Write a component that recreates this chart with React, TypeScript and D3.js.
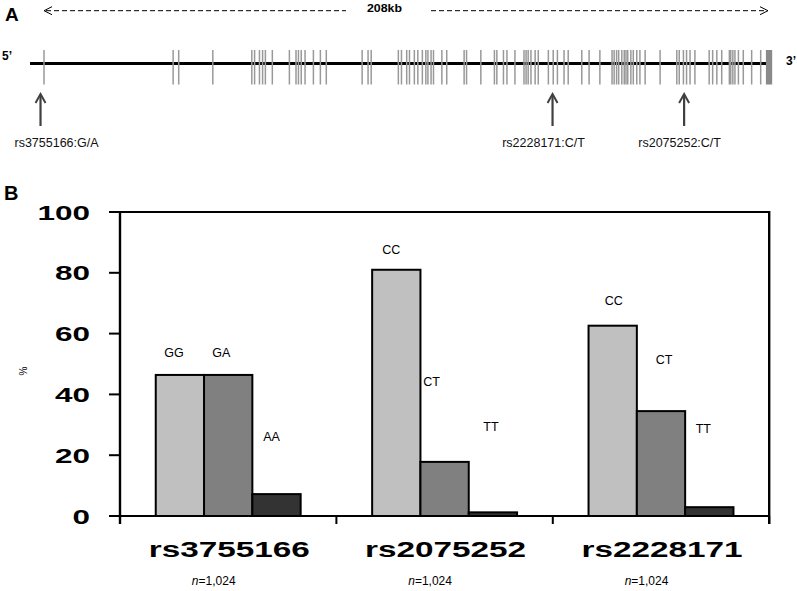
import React from 'react';
import * as d3 from 'd3';

// ---------- Panel A data ----------
const geneLengthKb = 208;
const exonPositionsKb = [
  0, 37.1, 38.7, 48.5, 59.7, 60.5, 61.9, 62.8, 63.6, 65.6, 70.5, 72.4, 73.1, 73.9, 75.0, 77.4, 79.4, 81.1,
  91.4, 93.1, 94.0, 101.8, 102.7, 104.2, 105.0, 106.4, 107.4, 108.7, 109.7, 110.3, 111.2, 111.9, 114.3, 115.7,
  120.7, 121.4, 125.5, 129.4, 130.1, 132.0, 133.0, 135.3, 137.9, 138.5, 139.1, 139.9, 141.1, 142.0, 144.9,
  146.3, 147.5, 149.4, 150.6, 154.5, 156.6, 159.7, 163.2, 163.8, 164.5, 165.1, 166.0, 166.7, 167.2, 167.7,
  168.6, 169.3, 170.3, 171.2, 172.7, 177.0, 181.8, 182.5, 183.7, 184.6, 185.6, 187.0, 191.1, 192.1, 193.3,
  194.7, 196.9, 197.3, 197.9, 198.5, 199.5, 200.9, 203.3, 205.9,
];
const lastExonKb = [207.4, 209.2];
const snpIds = ['rs3755166', 'rs2228171', 'rs2075252'];
const snpAlleles = ['G/A', 'C/T', 'C/T'];
const snpPositionsKb = [-1.0, 146.1, 183.9];

// ---------- Panel B data ----------
const markers = ['rs3755166', 'rs2075252', 'rs2228171'];
const genotypeLabels = [
  ['GG', 'GA', 'AA'],
  ['CC', 'CT', 'TT'],
  ['CC', 'CT', 'TT'],
];
const genotypePercent = [
  [46.4, 46.4, 7.2],
  [81.0, 17.8, 1.2],
  [62.6, 34.5, 2.9],
];
const sampleSizes = ['1,024', '1,024', '1,024'];
const yTicks = [0, 20, 40, 60, 80, 100];

// ---------- layout / style ----------
const W = 797;
const H = 591;
const barFills = ['#c0c0c0', '#808080', '#333333'];
// label offsets (dx from bar centre, dy above bar top) as placed in the original
const labelOffsets = [
  [[-6, 18], [-7, 18], [-5, 53]],
  [[-5, 16], [-13, 76], [-2, 81]],
  [[1, 21], [3, 47], [-6, 74]],
];
const snpLabelDx = [16, -9, -4.5];

export default function App() {
  // Panel A scales
  const gx = d3.scaleLinear().domain([0, geneLengthKb]).range([44, 768]);
  const lineY = 63.5;

  // Panel B scales
  const x0 = d3.scaleBand<string>().domain(markers).range([120, 769.2]).paddingInner(0).paddingOuter(0);
  const x1 = d3.scaleBand<number>().domain([0, 1, 2]).range([0, x0.bandwidth()]).paddingInner(0).paddingOuter(0.74);
  const y = d3.scaleLinear().domain([0, 100]).range([516, 212]);

  const dashed = '5,3';
  const sans = 'Liberation Sans, Arial, sans-serif';

  return (
    <svg width={W} height={H} style={{ position: 'absolute', left: 0, top: 0, background: '#fff' }} fontFamily={sans}>
      <rect x={0} y={0} width={W} height={H} fill="#fff" />
      {/* ---------------- Panel A ---------------- */}
      <text x={5} y={21} fontSize={19} fontWeight="bold">A</text>
      {/* 208 kb dashed arrows */}
      <line x1={gx(0) + 2} x2={346} y1={10.7} y2={10.7} stroke="#000" strokeWidth={1} strokeDasharray={dashed} />
      <polyline points={`${gx(0) + 8},${6.7} ${gx(0)},${10.7} ${gx(0) + 8},${14.7}`} fill="none" stroke="#000" strokeWidth={1} />
      <line x1={431} x2={gx(geneLengthKb) - 1} y1={10.7} y2={10.7} stroke="#000" strokeWidth={1} strokeDasharray={dashed} />
      <polyline points={`${gx(geneLengthKb) - 8},${6.7} ${gx(geneLengthKb)},${10.7} ${gx(geneLengthKb) - 8},${14.7}`} fill="none" stroke="#000" strokeWidth={1} />
      <text x={384.5} y={12} fontSize={11} fontWeight="bold" textAnchor="middle" textLength={35} lengthAdjust="spacingAndGlyphs">{`${geneLengthKb}kb`}</text>

      <text x={2} y={60} fontSize={12} fontWeight="bold">5’</text>
      <text x={786} y={65} fontSize={12} fontWeight="bold">3’</text>

      {/* gene backbone */}
      <line x1={30} x2={767} y1={lineY} y2={lineY} stroke="#000" strokeWidth={3} />
      {exonPositionsKb.map((p, i) => (
        <line key={i} x1={gx(p)} x2={gx(p)} y1={50} y2={84.5} stroke="#999" strokeWidth={1.5} />
      ))}
      <rect x={gx(lastExonKb[0])} y={50} width={gx(lastExonKb[1]) - gx(lastExonKb[0])} height={34.5} fill="#8a8a8a" />

      {/* SNP arrows */}
      {snpIds.map((id, i) => {
        const sx = gx(snpPositionsKb[i]);
        return (
          <g key={id}>
            <line x1={sx} x2={sx} y1={94.5} y2={126} stroke="#404040" strokeWidth={2.2} />
            <polyline points={`${sx - 5},${103} ${sx},${94} ${sx + 5},${103}`} fill="none" stroke="#404040" strokeWidth={2} />
            <text x={sx + snpLabelDx[i]} y={147} fontSize={12.5} textAnchor="middle" fill="#111">{`${id}:${snpAlleles[i]}`}</text>
          </g>
        );
      })}

      {/* ---------------- Panel B ---------------- */}
      <text x={4} y={200} fontSize={20} fontWeight="bold">B</text>

      {/* bars */}
      {markers.map((m, gi) => (
        <g key={m} transform={`translate(${x0(m)},0)`}>
          {genotypePercent[gi].map((v, bi) => (
            <rect key={bi} x={x1(bi)} y={y(v)} width={x1.bandwidth()} height={y(0) - y(v)}
              fill={barFills[bi]} stroke="#000" strokeWidth={2} />
          ))}
          {genotypePercent[gi].map((v, bi) => (
            <text key={'l' + bi}
              x={(x1(bi) as number) + x1.bandwidth() / 2 + labelOffsets[gi][bi][0]}
              y={y(v) - labelOffsets[gi][bi][1]}
              fontSize={12.5} textAnchor="middle" fill="#000">{genotypeLabels[gi][bi]}</text>
          ))}
        </g>
      ))}

      {/* frame & axes */}
      <line x1={109} x2={770} y1={y(100)} y2={y(100)} stroke="#000" strokeWidth={2} />
      <line x1={109} x2={770} y1={y(0)} y2={y(0)} stroke="#000" strokeWidth={2} />
      <line x1={120} x2={120} y1={y(100) - 1} y2={524} stroke="#000" strokeWidth={2.4} />
      <line x1={769.2} x2={769.2} y1={y(100) - 1} y2={524} stroke="#000" strokeWidth={2.4} />
      {yTicks.map((t) => (
        <g key={t}>
          <line x1={109} x2={120} y1={y(t)} y2={y(t)} stroke="#000" strokeWidth={2} />
          <text x={90} y={y(t) + 7.5} fontSize={21} fontWeight="bold" textAnchor="end"
            textLength={String(t).length * 17.5} lengthAdjust="spacingAndGlyphs">{t}</text>
        </g>
      ))}
      {markers.map((m, i) => (
        <line key={'t' + m} x1={(x0(m) as number) + x0.bandwidth()} x2={(x0(m) as number) + x0.bandwidth()}
          y1={y(0)} y2={524} stroke="#000" strokeWidth={2} />
      ))}
      {markers.map((m, i) => {
        const cx = (x0(m) as number) + x0.bandwidth() / 2;
        return (
          <g key={'c' + m}>
            <text x={cx + 1} y={557} fontSize={22} fontWeight="bold" textAnchor="middle"
              textLength={161} lengthAdjust="spacingAndGlyphs">{m}</text>
            <text x={cx - 14.5} y={585} fontSize={12} textAnchor="middle">
              <tspan fontStyle="italic">n</tspan>{`=${sampleSizes[i]}`}
            </text>
          </g>
        );
      })}
      <text transform="translate(27,371) rotate(-90)" fontSize={10} textAnchor="middle">%</text>
    </svg>
  );
}
